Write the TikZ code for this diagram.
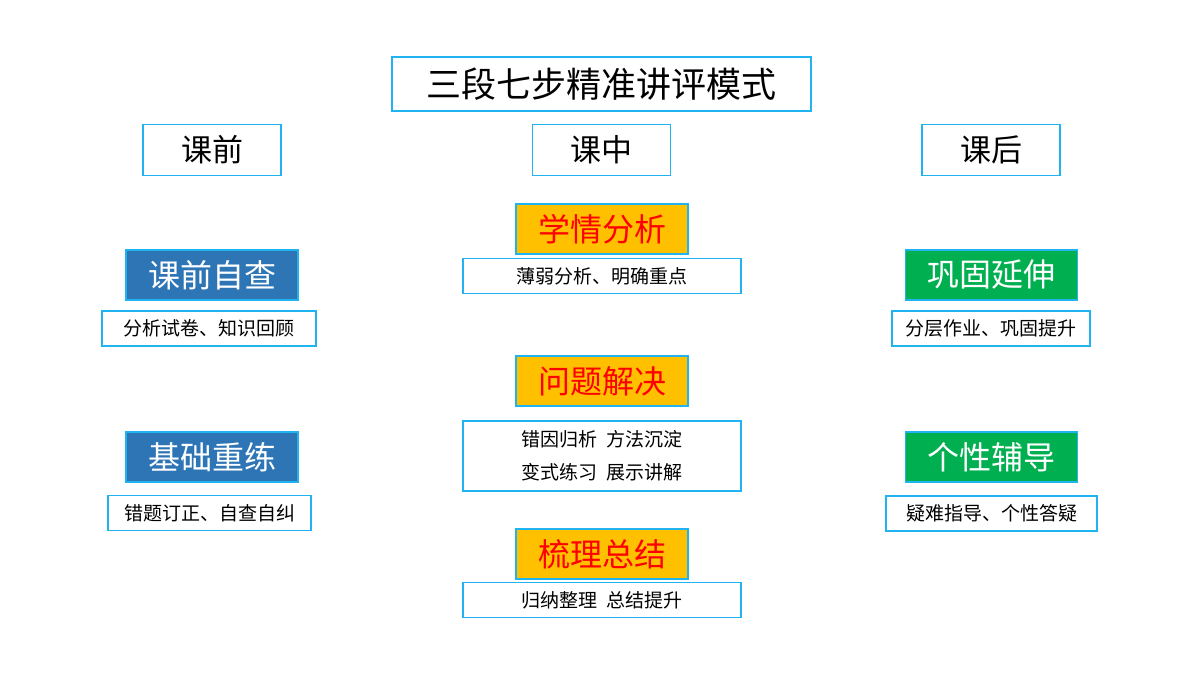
\documentclass[tikz,border=0pt]{standalone}
\usepackage{fontspec}
\setmainfont{Noto Sans CJK SC}
\definecolor{edge}{HTML}{1FB4F0}
\definecolor{stepblue}{HTML}{2E75B6}
\definecolor{stepgreen}{HTML}{00B050}
\definecolor{steporange}{HTML}{FFC000}
\begin{document}
\begin{tikzpicture}[x=1pt, y=-1pt,
  frame/.style={draw=edge, line width=1.6pt, inner sep=0pt},
  stagebox/.style={frame, minimum width=138pt, minimum height=51pt, font=\fontsize{31}{31}\selectfont},
  stepbox/.style={frame, minimum width=172pt, minimum height=50pt, font=\fontsize{32}{32}\selectfont},
  bluebox/.style={stepbox, fill=stepblue, text=white},
  greenbox/.style={stepbox, fill=stepgreen, text=white},
  orangebox/.style={stepbox, fill=steporange, text=red},
  notebox/.style={frame, minimum height=35pt, align=center, font=\fontsize{19}{33}\selectfont}]
\useasboundingbox (0,0) rectangle (1200,675);
\node[frame, minimum width=419pt, minimum height=54pt, font=\fontsize{35}{35}\selectfont] (title) at (601.5,84) {三段七步精准讲评模式};
\foreach \x/\t/\n in {212/课前/pre, 601.5/课中/mid, 991/课后/post}
  \node[stagebox] (\n) at (\x,150) {\t};
% before class
\node[bluebox] (selfcheck) at (212,275) {课前自查};
\node[notebox, minimum width=214pt] (selfchecknote) at (209,328.5) {分析试卷、知识回顾};
\node[bluebox] (retrain) at (212,457) {基础重练};
\node[notebox, minimum width=203pt] (retrainnote) at (209.5,513) {错题订正、自查自纠};
% in class
\node[orangebox] (analyse) at (602,229) {学情分析};
\node[notebox, minimum width=278pt] (analysenote) at (602,276) {薄弱分析、明确重点};
\node[orangebox] (solve) at (602,381) {问题解决};
\node[notebox, minimum width=278pt, minimum height=70pt] (solvenote) at (602,456) {错因归析\ \ 方法沉淀\\变式练习\ \ 展示讲解};
\node[orangebox] (summary) at (602,554) {梳理总结};
\node[notebox, minimum width=278pt] (summarynote) at (602,600) {归纳整理\ \ 总结提升};
% after class
\node[greenbox] (extend) at (991.5,275) {巩固延伸};
\node[notebox, minimum width=198pt] (extendnote) at (991,328.5) {分层作业、巩固提升};
\node[greenbox] (tutor) at (991.5,457) {个性辅导};
\node[notebox, minimum width=211pt] (tutornote) at (991.5,513.5) {疑难指导、个性答疑};
\end{tikzpicture}
\end{document}
